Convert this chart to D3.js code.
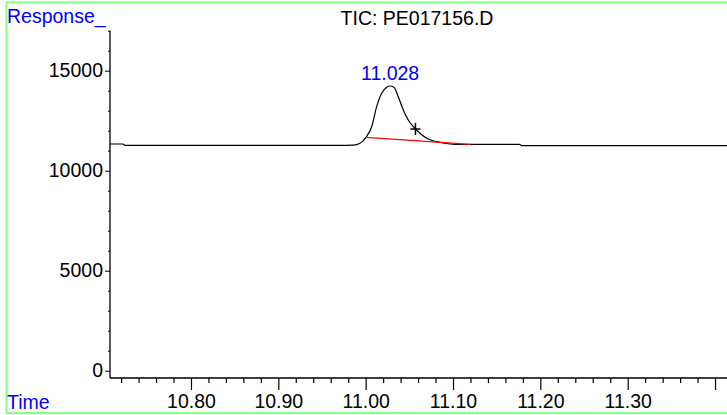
<!DOCTYPE html>
<html>
<head>
<meta charset="utf-8">
<script src="https://cdn.jsdelivr.net/npm/d3@7"></script>
<style>
  body { margin: 0; background: #fff; }
  svg text { font-family: "Liberation Sans", Arial, sans-serif; font-size: 19.5px; }
  .axis line, .axis path { stroke: #000; }
</style>
</head>
<body>
<div id="chart"></div>
<script>
// signal trace (time in min, abundance)
const times = [10.7073, 10.722, 10.725, 10.9706, 10.9858, 10.9935, 11.0004, 11.0069, 11.0126,
  11.0183, 11.0241, 11.0278, 11.0324, 11.0373, 11.0431, 11.0488, 11.0545, 11.0622,
  11.0699, 11.0813, 11.0966, 11.108, 11.1309, 11.176, 11.179, 11.4137];
const response = [11335, 11335, 11265, 11265, 11275, 11370, 11670, 12200, 13200,
  13870, 14170, 14235, 14170, 13700, 13035, 12535, 12200, 11870,
  11620, 11450, 11335, 11310, 11315, 11315, 11250, 11250];

// integration baseline and marker
const baseTimes = [11.0004, 11.1202];
const baseResp = [11670, 11320];
const marker = {t: 11.057, r: 12085};
const peakLabel = {t: 11.028, r: 14235, text: "11.028"};

const xTicks = [10.8, 10.9, 11.0, 11.1, 11.2, 11.3, 11.4];
const xLabels = ["10.80", "10.90", "11.00", "11.10", "11.20", "11.30", ""];
const yTicks = [0, 5000, 10000, 15000];
const title = "TIC: PE017156.D";

const W = 727, H = 415;
const svg = d3.select("#chart").append("svg").attr("width", W).attr("height", H);

// green frame
svg.append("rect")
  .attr("x", 6.5).attr("y", 2.5).attr("width", 722).attr("height", 410.5)
  .attr("fill", "none").attr("stroke", "#88ff88").attr("stroke-width", 2);

const x = d3.scaleLinear().domain([10.7073, 11.4137]).range([110, 727]);
const y = d3.scaleLinear().domain([0, 17000]).range([370.7, 30.7]);
const axisY0 = 378;

// x axis
const minorX = d3.range(10.72, 11.41, 0.02).filter(v => !xTicks.some(t => Math.abs(t - v) < 1e-6));
const gx = svg.append("g").attr("class", "axis").attr("transform", `translate(0,${axisY0})`);
gx.call(d3.axisBottom(x).tickValues(minorX).tickSize(5).tickFormat(""));
gx.select(".domain").remove();
const gx2 = svg.append("g").attr("class", "axis").attr("transform", `translate(0,${axisY0})`);
gx2.call(d3.axisBottom(x).tickValues(xTicks).tickSize(12).tickPadding(2)
  .tickFormat((d, i) => xLabels[i]));
gx2.select(".domain").remove();
gx2.selectAll("text").attr("font-size", null).attr("font-family", null).attr("dy", "0.71em").attr("fill", "#000");
gx.selectAll("line").attr("stroke-width", 1.2);
gx2.selectAll("line").attr("stroke-width", 1.2);
gx2.selectAll("text").attr("y", 16);

// y axis
const minorY = d3.range(1000, 17001, 1000).filter(v => v % 5000 !== 0);
const gy = svg.append("g").attr("class", "axis").attr("transform", "translate(110,0)");
gy.call(d3.axisLeft(y).tickValues(minorY).tickSize(2).tickFormat(""));
gy.select(".domain").remove();
const gy2 = svg.append("g").attr("class", "axis").attr("transform", "translate(110,0)");
gy2.call(d3.axisLeft(y).tickValues(yTicks).tickSize(5).tickPadding(2).tickFormat(d3.format("d")));
gy2.select(".domain").remove();
gy2.selectAll("text").attr("font-size", null).attr("font-family", null).attr("fill", "#000");

// axis lines
svg.append("line").attr("x1", 110).attr("x2", 110).attr("y1", y(17000)).attr("y2", axisY0)
  .attr("stroke", "#000").attr("stroke-width", 1.3);
svg.append("line").attr("x1", 110).attr("x2", 727).attr("y1", axisY0).attr("y2", axisY0)
  .attr("stroke", "#000").attr("stroke-width", 1.3);

// trace
const line = d3.line().x(d => x(d[0])).y(d => y(d[1])).curve(d3.curveMonotoneX);
svg.append("path")
  .datum(times.map((t, i) => [t, response[i]]))
  .attr("d", line)
  .attr("fill", "none").attr("stroke", "#000").attr("stroke-width", 1.2);

// baseline
svg.append("path")
  .datum(baseTimes.map((t, i) => [t, baseResp[i]]))
  .attr("d", d3.line().x(d => x(d[0])).y(d => y(d[1])))
  .attr("fill", "none").attr("stroke", "#ff0000").attr("stroke-width", 1.2);

// cross marker
const mx = x(marker.t), my = y(marker.r);
svg.append("path")
  .attr("d", `M${mx - 5},${my}H${mx + 5}M${mx},${my - 6}V${my + 6}`)
  .attr("stroke", "#000").attr("stroke-width", 1.5);

// peak label
svg.append("text").attr("x", x(peakLabel.t)).attr("y", y(peakLabel.r) - 6)
  .attr("text-anchor", "middle").attr("fill", "#0000ff").text(peakLabel.text);

// titles
svg.append("text").attr("x", 417).attr("y", 25).attr("text-anchor", "middle")
  .attr("fill", "#000").text(title);
svg.append("text").attr("x", 7).attr("y", 23).attr("fill", "#0000ff").text("Response_");
svg.append("text").attr("x", 7).attr("y", 409).attr("fill", "#0000ff").text("Time");
</script>
</body>
</html>
